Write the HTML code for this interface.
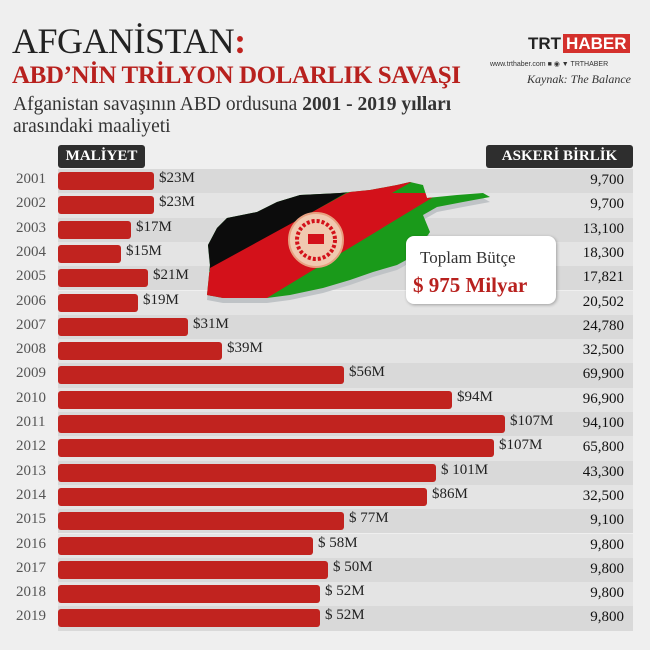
<!DOCTYPE html>
<html><head><meta charset="utf-8"><style>
body{margin:0;width:650px;height:650px;background:#efefef;position:relative;overflow:hidden;font-family:"Liberation Serif",serif}
.a{position:absolute;white-space:nowrap}
</style></head><body>
<div class="a" style="left:12px;top:20px;font-size:36px;color:#222;font-weight:300;letter-spacing:-0.5px">AFGANİSTAN<span style="color:#c0221e;font-weight:bold">:</span></div>
<div class="a" style="left:12px;top:62px;font-size:25px;color:#b8211e;font-weight:bold;letter-spacing:-0.4px">ABD’NİN TRİLYON DOLARLIK SAVAŞI</div>
<div class="a" style="left:13px;top:94px;font-size:19.5px;color:#333;line-height:22px">Afganistan savaşının ABD ordusuna <b>2001 - 2019 yılları</b><br>arasındaki maaliyeti</div>
<div class="a" style="left:528px;top:34px;font-family:'Liberation Sans',sans-serif;font-weight:bold;font-size:17px;color:#222">TRT<span style="background:#d4302c;color:#fff;padding:0 3px;margin-left:2px">HABER</span></div>
<div class="a" style="left:490px;top:60px;font-family:'Liberation Sans',sans-serif;font-size:7px;color:#333">www.trthaber.com ■ ◉ ▼ TRTHABER</div>
<div class="a" style="left:527px;top:72px;font-size:12px;font-style:italic;color:#333">Kaynak: The Balance</div>
<div class="a" style="left:58px;top:145px;width:87px;height:23px;background:#2e2e2e;border-radius:3px;color:#fff;font-weight:bold;font-size:15px;line-height:23px;text-align:center">MALİYET</div>
<div class="a" style="left:486px;top:145px;width:147px;height:23px;background:#2e2e2e;border-radius:3px;color:#fff;font-weight:bold;font-size:15px;line-height:23px;text-align:center">ASKERİ BİRLİK</div>
<div id="rows"></div>
<svg class="a" style="left:0;top:0" width="650" height="650">
<defs><clipPath id="c"><polygon points="207,295 210,265 208,245 217,228 227,218 257,212 277,202 300,195 340,193 370,190 397,185 410,182 423,185 427,198 457,195 483,193 490,197 463,202 437,207 423,215 430,232 423,242 417,245 410,258 397,265 373,272 350,280 323,288 290,295 267,298 223,298"/></clipPath></defs>
<polygon transform="translate(0,5)" fill="#bfc3c6" points="207,295 210,265 208,245 217,228 227,218 257,212 277,202 300,195 340,193 370,190 397,185 410,182 423,185 427,198 457,195 483,193 490,197 463,202 437,207 423,215 430,232 423,242 417,245 410,258 397,265 373,272 350,280 323,288 290,295 267,298 223,298"/>
<g clip-path="url(#c)">
<rect x="190" y="170" width="320" height="140" fill="#1a9a1a"/>
<polygon fill="#d3111a" points="160,325 450,160 450,135 160,300"/>
<polygon fill="#0c0c0c" points="160,299 400,162 160,162"/>
<polygon fill="#d3111a" points="210,268 347,193 440,193 267,298 210,298"/>
</g>
<circle cx="316" cy="240" r="27" fill="#f0c9b0" stroke="#e8a080" stroke-width="2"/>
<circle cx="316" cy="240" r="19" fill="none" stroke="#d3111a" stroke-width="4" stroke-dasharray="3 2"/>
<rect x="308" y="234" width="16" height="10" fill="#d3111a"/>
</svg>
<div class="a" style="left:406px;top:236px;width:150px;height:68px;background:#fff;border-radius:8px;box-shadow:1px 1px 3px rgba(0,0,0,.3)"></div>
<div class="a" style="left:420px;top:248px;font-size:17px;color:#333">Toplam Bütçe</div>
<div class="a" style="left:413px;top:273px;font-size:21px;color:#b8211e;font-weight:bold">$ 975 Milyar</div>
<script>
var d=[["2001",154,"$23M","9,700"],["2002",154,"$23M","9,700"],["2003",131,"$17M","13,100"],["2004",121,"$15M","18,300"],["2005",148,"$21M","17,821"],["2006",138,"$19M","20,502"],["2007",188,"$31M","24,780"],["2008",222,"$39M","32,500"],["2009",344,"$56M","69,900"],["2010",452,"$94M","96,900"],["2011",505,"$107M","94,100"],["2012",494,"$107M","65,800"],["2013",436,"$ 101M","43,300"],["2014",427,"$86M","32,500"],["2015",344,"$ 77M","9,100"],["2016",313,"$ 58M","9,800"],["2017",328,"$ 50M","9,800"],["2018",320,"$ 52M","9,800"],["2019",320,"$ 52M","9,800"]];
var h="";d.forEach(function(r,i){var t=169+i*24.3;
h+='<div class="a" style="left:58px;top:'+t+'px;width:575px;height:24.3px;background:'+(i%2?'#e4e4e4':'#d9d9d9')+'"></div>';
h+='<div class="a" style="left:58px;top:'+(t+3)+'px;width:'+(r[1]-58)+'px;height:18px;background:#c1231f;border-radius:3px"></div>';
h+='<div class="a" style="left:16px;top:'+(t+2)+'px;font-size:15px;color:#555">'+r[0]+'</div>';
h+='<div class="a" style="left:'+(r[1]+5)+'px;top:'+(t+1)+'px;font-size:15px;color:#222">'+r[2]+'</div>';
h+='<div class="a" style="right:26px;top:'+(t+3)+'px;font-size:15px;color:#111">'+r[3]+'</div>';});
document.getElementById("rows").innerHTML=h;
</script>
</body></html>
